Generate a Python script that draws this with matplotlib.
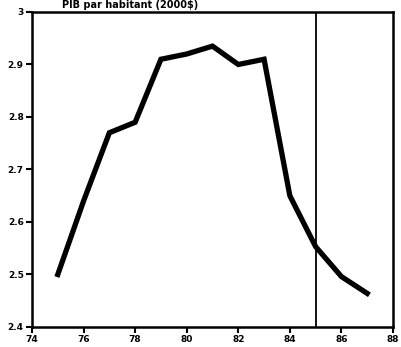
import matplotlib.pyplot as plt

years = [75, 76, 77, 78, 79, 80, 81, 82, 83, 84, 85, 86, 87]
pib = [2.50, 2.64, 2.77, 2.79, 2.91, 2.92, 2.935, 2.90, 2.91, 2.65, 2.553, 2.496, 2.464]
xticks = [74, 76, 78, 80, 82, 84, 86, 88]
yticks = [2.4, 2.5, 2.6, 2.7, 2.8, 2.9, 3.0]
ylabels = ["2.4", "2.5", "2.6", "2.7", "2.8", "2.9", "3"]
marker_year = 85

fig = plt.figure(figsize=(4.01, 3.47), dpi=100)
ax = fig.add_axes([32 / 401, 20 / 347, 361 / 401, 315 / 347])

ax.plot(years, pib, color="black", linewidth=3.8, solid_joinstyle="miter")
ax.axvline(marker_year, color="black", linewidth=1.3)

ax.set_xlim(74, 88)
ax.set_ylim(2.4, 3.0)
ax.set_xticks(xticks)
ax.set_xticklabels([str(t) for t in xticks], fontsize=6.5, fontweight="bold")
ax.set_yticks(yticks)
ax.set_yticklabels(ylabels, fontsize=6.5, fontweight="bold")
ax.tick_params(direction="out", length=4, width=1.5, pad=2)
for s in ax.spines.values():
    s.set_linewidth(1.8)

# titre en haut, serré contre le cadre
fig.text(62 / 401, 0.999, "PIB par habitant (2000$)", fontsize=7, fontweight="bold",
         ha="left", va="top")

fig.savefig("out.png", dpi=100)
